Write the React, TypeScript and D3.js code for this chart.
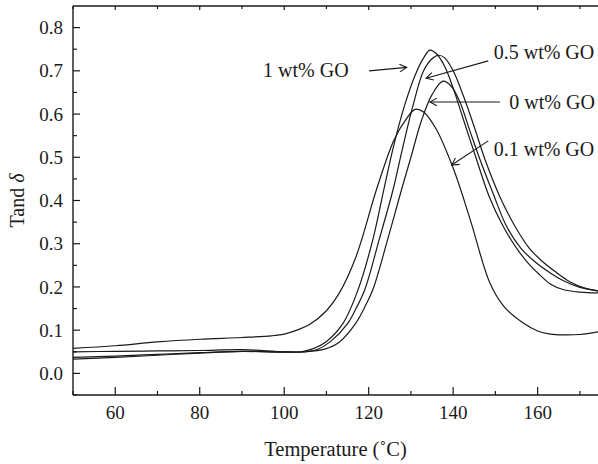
import React from "react";
import * as d3 from "d3";

// temperature (°C) and tan delta
const tempPt1 = [50, 60, 70, 80, 90, 97, 100, 103, 106, 110, 113, 117, 122, 126, 129, 131, 133, 136, 140, 144, 148.7, 152, 156.5, 160, 163, 166, 170, 175];
const tanPt1 = [0.058, 0.064, 0.073, 0.079, 0.083, 0.087, 0.091, 0.1, 0.113, 0.145, 0.185, 0.27, 0.43, 0.54, 0.59, 0.611, 0.605, 0.565, 0.475, 0.357, 0.209, 0.155, 0.117, 0.098, 0.091, 0.089, 0.09, 0.097];

const temp1 = [50, 60, 70, 80, 90, 100, 104, 106.5, 110, 114, 117.5, 121, 123.6, 126, 128.5, 131, 133, 134.5, 136, 138, 140, 142.5, 145.5, 148.5, 151.8, 155, 158, 160.5, 163, 166, 170, 175];
const tan1 = [0.037, 0.04, 0.044, 0.048, 0.051, 0.049, 0.05, 0.056, 0.074, 0.117, 0.194, 0.31, 0.426, 0.53, 0.62, 0.69, 0.73, 0.748, 0.74, 0.71, 0.66, 0.585, 0.496, 0.41, 0.341, 0.29, 0.252, 0.228, 0.207, 0.194, 0.188, 0.186];

const temp05 = [50, 60, 70, 80, 90, 100, 105, 108, 111, 115, 117, 119.1, 122.5, 125.8, 128, 130.5, 133, 135, 136.5, 138, 140, 142.5, 145, 147.5, 151, 154.6, 158, 161, 164.5, 167.6, 171, 175];
const tan05 = [0.033, 0.037, 0.042, 0.047, 0.051, 0.05, 0.05, 0.056, 0.074, 0.115, 0.15, 0.194, 0.31, 0.426, 0.52, 0.62, 0.7, 0.728, 0.736, 0.73, 0.7, 0.64, 0.57, 0.496, 0.41, 0.341, 0.29, 0.26, 0.233, 0.212, 0.198, 0.19];

const temp0 = [50, 60, 70, 80, 90, 100, 105, 109.6, 113, 117, 119, 121, 124.5, 127.8, 130, 132.5, 135, 137.6, 139.5, 141.5, 144, 146.3, 149.5, 152.6, 156, 159.5, 162.9, 166, 170, 175];
const tan0 = [0.05, 0.051, 0.052, 0.053, 0.055, 0.05, 0.05, 0.056, 0.072, 0.117, 0.152, 0.194, 0.31, 0.426, 0.5, 0.585, 0.645, 0.676, 0.665, 0.63, 0.56, 0.496, 0.415, 0.341, 0.29, 0.257, 0.233, 0.215, 0.199, 0.19];

const series = [
  { name: "0.1 wt% GO", t: tempPt1, v: tanPt1 },
  { name: "1 wt% GO", t: temp1, v: tan1 },
  { name: "0.5 wt% GO", t: temp05, v: tan05 },
  { name: "0 wt% GO", t: temp0, v: tan0 },
];

const xTicks = [60, 80, 100, 120, 140, 160];
const xMinor = [50, 70, 90, 110, 130, 150, 170];
const yTicks = [0.0, 0.1, 0.2, 0.3, 0.4, 0.5, 0.6, 0.7, 0.8];
const yMinor = [-0.05, 0.05, 0.15, 0.25, 0.35, 0.45, 0.55, 0.65, 0.75];

// labels: text position and arrow (from -> to) in data units
const notes = [
  { label: "1 wt% GO", tx: 95, ty: 0.686, x1: 120.1, y1: 0.7, x2: 129, y2: 0.708 },
  { label: "0.5 wt% GO", tx: 149.6, ty: 0.727, x1: 148.3, y1: 0.723, x2: 133.6, y2: 0.683 },
  { label: "0 wt% GO", tx: 153.3, ty: 0.612, x1: 151.1, y1: 0.628, x2: 134.5, y2: 0.628 },
  { label: "0.1 wt% GO", tx: 149.6, ty: 0.503, x1: 148.3, y1: 0.538, x2: 139.65, y2: 0.482 },
];

const W = 598;
const H = 464;
const left = 73;
const top = 6;
const bottom = 395;
const right = 601;
const font = "'Liberation Serif', 'Times New Roman', serif";
const ink = "#1a1a1a";

export default function App() {
  const x = d3.scaleLinear().domain([50, 175]).range([left, right]);
  const y = d3.scaleLinear().domain([-0.05, 0.85]).range([bottom, top]);

  const line = d3
    .line<[number, number]>()
    .x((d) => x(d[0]))
    .y((d) => y(d[1]))
    .curve(d3.curveCatmullRom.alpha(0.5));

  const arrowHead = (x1: number, y1: number, x2: number, y2: number) => {
    const a = Math.atan2(y2 - y1, x2 - x1);
    const len = 8;
    const sp = 0.5;
    const p1 = [x2 - len * Math.cos(a - sp), y2 - len * Math.sin(a - sp)];
    const p2 = [x2 - len * Math.cos(a + sp), y2 - len * Math.sin(a + sp)];
    return `M${p1[0]},${p1[1]}L${x2},${y2}L${p2[0]},${p2[1]}`;
  };

  return (
    <svg
      width={W}
      height={H}
      style={{ position: "absolute", left: 0, top: 0, background: "#fff" }}
      fontFamily={font}
    >
      <defs>
        <clipPath id="plot">
          <rect x={left} y={top} width={right - left} height={bottom - top} />
        </clipPath>
      </defs>

      {/* curves */}
      <g clipPath="url(#plot)" fill="none" stroke={ink} strokeWidth={1.2}>
        {series.map((s) => (
          <path
            key={s.name}
            d={line(s.t.map((t, i) => [t, s.v[i]] as [number, number])) || ""}
          />
        ))}
      </g>

      {/* frame */}
      <g stroke={ink} strokeWidth={1.4} fill="none">
        <line x1={left} x2={right} y1={bottom} y2={bottom} />
        <line x1={left} x2={right} y1={top} y2={top} />
        <line x1={left} x2={left} y1={top} y2={bottom} />
        <line x1={right} x2={right} y1={top} y2={bottom} />
      </g>

      {/* ticks, inward */}
      <g stroke={ink} strokeWidth={1.2}>
        {xTicks.map((t) => (
          <g key={"xt" + t}>
            <line x1={x(t)} x2={x(t)} y1={bottom} y2={bottom - 8} />
            <line x1={x(t)} x2={x(t)} y1={top} y2={top + 4} />
          </g>
        ))}
        {xMinor.map((t) => (
          <g key={"xm" + t}>
            <line x1={x(t)} x2={x(t)} y1={bottom} y2={bottom - 4} />
            <line x1={x(t)} x2={x(t)} y1={top} y2={top + 3} />
          </g>
        ))}
        {yTicks.map((v) => (
          <line key={"yt" + v} x1={left} x2={left + 7} y1={y(v)} y2={y(v)} />
        ))}
        {yMinor.map((v) => (
          <line key={"ym" + v} x1={left} x2={left + 4} y1={y(v)} y2={y(v)} />
        ))}
      </g>

      {/* tick labels */}
      <g fill={ink} fontSize={19}>
        {xTicks.map((t) => (
          <text key={"xl" + t} x={x(t)} y={419} textAnchor="middle">
            {t}
          </text>
        ))}
        {yTicks.map((v) => (
          <text
            key={"yl" + v}
            x={left - 10}
            y={y(v)}
            dy="0.35em"
            textAnchor="end"
          >
            {d3.format(".1f")(v)}
          </text>
        ))}
      </g>

      {/* axis titles */}
      <text x={(left + W) / 2} y={456} textAnchor="middle" fontSize={20.5} fill={ink}>
        Temperature (˚C)
      </text>
      <text
        transform={`translate(24,${(top + bottom) / 2}) rotate(-90)`}
        textAnchor="middle"
        fontSize={20}
        fill={ink}
      >
        Tand <tspan fontStyle="italic">δ</tspan>
      </text>

      {/* annotations */}
      <g stroke={ink} strokeWidth={1.1} fill="none">
        {notes.map((n) => (
          <g key={"a" + n.label}>
            <line x1={x(n.x1)} y1={y(n.y1)} x2={x(n.x2)} y2={y(n.y2)} />
            <path d={arrowHead(x(n.x1), y(n.y1), x(n.x2), y(n.y2))} />
          </g>
        ))}
      </g>
      <g fill={ink} fontSize={20}>
        {notes.map((n) => (
          <text key={"t" + n.label} x={x(n.tx)} y={y(n.ty)}>
            {n.label}
          </text>
        ))}
      </g>
    </svg>
  );
}
